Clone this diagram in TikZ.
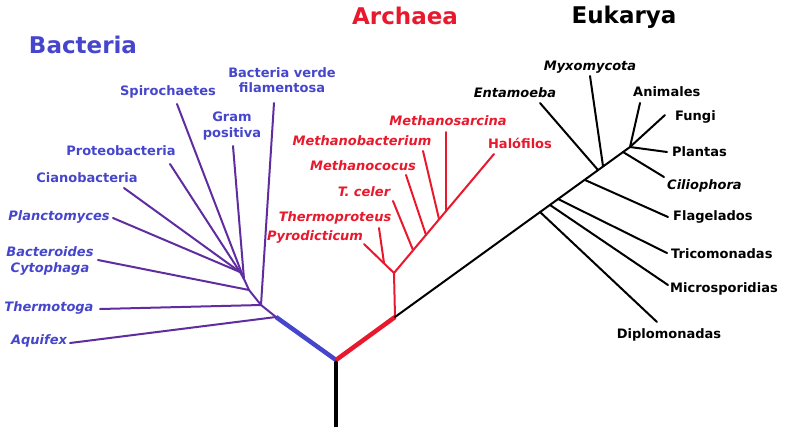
\documentclass[tikz,border=0pt]{standalone}
\usepackage{fontspec}
\setmainfont{DejaVu Sans}
\definecolor{bblue}{RGB}{70,70,205}
\definecolor{bline}{RGB}{95,45,160}
\definecolor{ared}{RGB}{232,25,45}
\begin{document}
\begin{tikzpicture}[x=1pt,y=-1pt,
  lbl/.style={font=\fontsize{13}{15.5}\selectfont\bfseries, inner sep=0pt, align=center},
  itl/.style={lbl, font=\fontsize{13}{15.5}\selectfont\bfseries\itshape},
  ttl/.style={font=\fontsize{23}{26}\selectfont\bfseries, inner sep=0pt},
  thinline/.style={line width=2pt, line cap=round},
  thickline/.style={line width=4.5pt}
]
\useasboundingbox (0,0) rectangle (786,437);
% titles
\node[ttl, text=bblue] (tb) at (83,45) {Bacteria};
\node[ttl, text=ared] (ta) at (405,16) {Archaea};
\node[ttl, text=black] (te) at (624,17) {Eukarya};

% trunk
\coordinate (root) at (336,427);
\coordinate (R) at (336,360);
\coordinate (B0) at (276,317);
\coordinate (A0) at (395,317);
\draw[thickline, black] (root) -- (R);
\draw[thickline, bblue] (R) -- (B0);
\draw[thickline, ared] (R) -- (A0);

% ---------- Bacteria ----------
\coordinate (J2) at (261,305);
\coordinate (J3) at (249,290);
\coordinate (J4) at (244,279);
\coordinate (J5) at (240,272);
\coordinate (eAqu) at (70,343);
\coordinate (eThe) at (100,309);
\coordinate (eVer) at (274,103);
\coordinate (eBac) at (98,260);
\coordinate (eGra) at (233,146);
\coordinate (eSpi) at (177,104);
\coordinate (ePla) at (113,218);
\coordinate (eCia) at (124,188);
\coordinate (ePro) at (170,164);
\begin{scope}[thinline, bline]
\draw (B0) -- (J2) -- (J3) -- (J4) -- (J5);
\draw (B0) -- (eAqu);
\draw (J2) -- (eThe);
\draw (J2) -- (eVer);
\draw (J3) -- (eBac);
\draw (J4) -- (eGra);
\draw (J4) -- (eSpi);
\draw (J5) -- (ePla);
\draw (J5) -- (eCia);
\draw (J5) -- (ePro);
\end{scope}
\node[lbl, text=bblue] (lVer) at (282,80) {Bacteria verde\\filamentosa};
\node[lbl, text=bblue] (lSpi) at (168,92) {Spirochaetes};
\node[lbl, text=bblue] (lGra) at (232,126) {Gram\\positiva};
\node[lbl, text=bblue] (lPro) at (121,151) {Proteobacteria};
\node[lbl, text=bblue] (lCia) at (87,178) {Cianobacteria};
\node[itl, text=bblue] (lPla) at (59,217) {Planctomyces};
\node[itl, text=bblue] (lBac) at (50,261) {Bacteroides\\Cytophaga};
\node[itl, text=bblue] (lThe) at (49,308) {Thermotoga};
\node[itl, text=bblue] (lAqu) at (39,341) {Aquifex};

% ---------- Archaea ----------
\coordinate (a1) at (394,273);
\coordinate (a2) at (384,263);
\coordinate (ePyr) at (364,244);
\coordinate (eThp) at (379,228);
\coordinate (jCel) at (413,250);
\coordinate (eCel) at (393,201);
\coordinate (jMco) at (426,235);
\coordinate (eMco) at (406,175);
\coordinate (jMba) at (439,219);
\coordinate (eMba) at (423,151);
\coordinate (jMsa) at (446,211);
\coordinate (eMsa) at (446,132);
\coordinate (eHal) at (494,154);
\begin{scope}[thinline, ared]
\draw (A0) -- (a1);
\draw (a1) -- (ePyr);
\draw (a2) -- (eThp);
\draw (a1) -- (eHal);
\draw (jCel) -- (eCel);
\draw (jMco) -- (eMco);
\draw (jMba) -- (eMba);
\draw (jMsa) -- (eMsa);
\end{scope}
\node[lbl, text=ared] (lHal) at (520,143) {Halófilos};
\node[itl, text=ared] (lMsa) at (448,121) {Methanosarcina};
\node[itl, text=ared] (lMba) at (362,141) {Methanobacterium};
\node[itl, text=ared] (lMco) at (363,166) {Methanococus};
\node[itl, text=ared] (lCel) at (364,192) {T. celer};
\node[itl, text=ared] (lThp) at (335,218) {Thermoproteus};
\node[itl, text=ared] (lPyr) at (315,237) {Pyrodicticum};

% ---------- Eukarya ----------
\coordinate (E1) at (630,147);
\coordinate (jDip) at (540,212);
\coordinate (eDip) at (657,322);
\coordinate (jMic) at (550,205);
\coordinate (eMic) at (668,285);
\coordinate (jTri) at (558,199);
\coordinate (eTri) at (667,253);
\coordinate (jFla) at (585,180);
\coordinate (eFla) at (668,217);
\coordinate (jEnt) at (598,170);
\coordinate (eEnt) at (540,103);
\coordinate (jMyx) at (603,166);
\coordinate (eMyx) at (590,76);
\coordinate (jCil) at (623,152);
\coordinate (eCil) at (664,177);
\coordinate (ePlt) at (667,152);
\coordinate (eAni) at (640,103);
\coordinate (eFun) at (665,115);
\begin{scope}[thinline, black]
\draw (A0) -- (E1);
\draw (jDip) -- (eDip);
\draw (jMic) -- (eMic);
\draw (jTri) -- (eTri);
\draw (jFla) -- (eFla);
\draw (jEnt) -- (eEnt);
\draw (jMyx) -- (eMyx);
\draw (jCil) -- (eCil);
\draw (E1) -- (ePlt);
\draw (E1) -- (eAni);
\draw (E1) -- (eFun);
\end{scope}
\node[lbl, anchor=west] (lFun) at (675,117) {Fungi};
\node[lbl, anchor=west] (lPlt) at (672,152) {Plantas};
\node[itl, anchor=west] (lCil) at (667,186) {Ciliophora};
\node[lbl, anchor=west] (lFla) at (673,217) {Flagelados};
\node[lbl, anchor=west] (lTri) at (671,254) {Tricomonadas};
\node[lbl, anchor=west] (lMic) at (670,289) {Microsporidias};
\node[lbl] (lDip) at (669,335) {Diplomonadas};
\node[lbl, anchor=west] (lAni) at (633,92) {Animales};
\node[itl] (lEnt) at (515,93) {Entamoeba};
\node[itl] (lMyx) at (590,67) {Myxomycota};
\end{tikzpicture}
\end{document}
